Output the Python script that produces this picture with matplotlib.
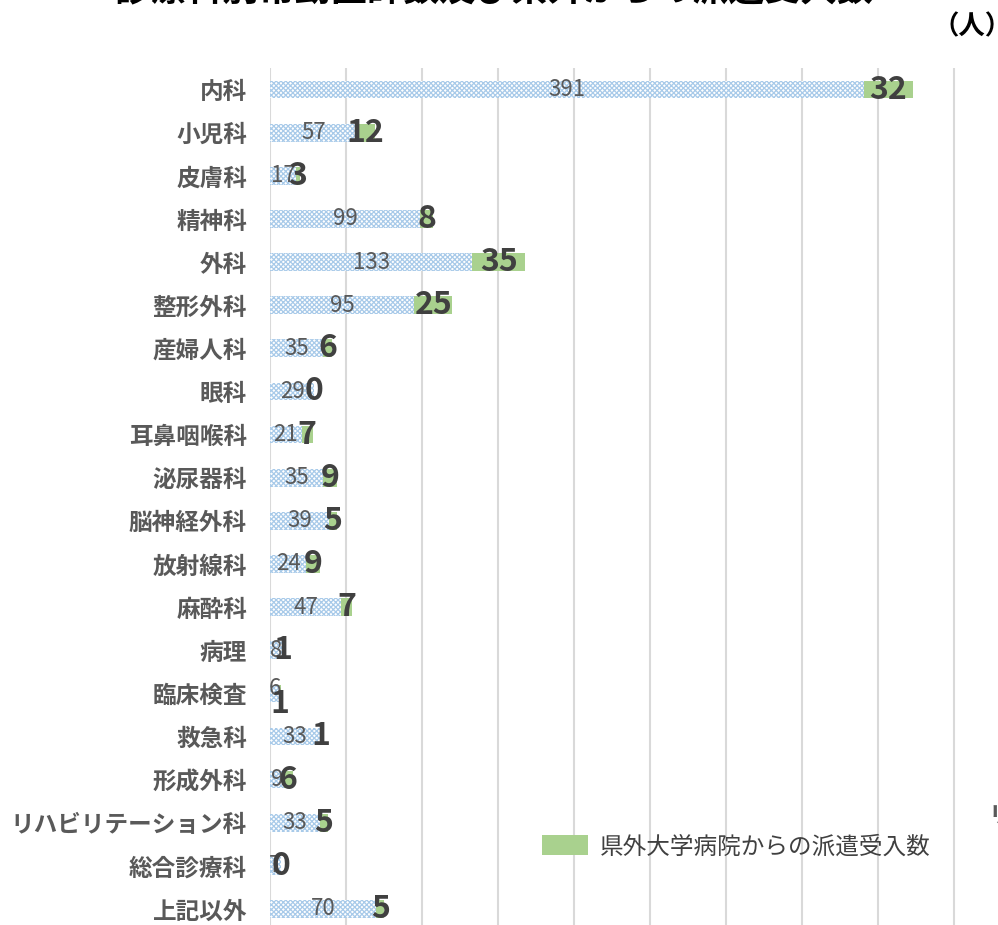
import matplotlib
matplotlib.use("Agg")
import matplotlib.pyplot as plt
import numpy as np

plt.rcParams['font.family'] = ['Noto Sans CJK JP', 'DejaVu Sans']
plt.rcParams['hatch.linewidth'] = 0.9

categories = ["内科", "小児科", "皮膚科", "精神科", "外科", "整形外科", "産婦人科", "眼科",
              "耳鼻咽喉科", "泌尿器科", "脳神経外科", "放射線科", "麻酔科", "病理", "臨床検査",
              "救急科", "形成外科", "リハビリテーション科", "総合診療科", "上記以外"]
base_values = [391, 57, 17, 99, 133, 95, 35, 29, 21, 35, 39, 24, 47, 8, 6, 33, 9, 33, 7, 70]
dispatch_values = [32, 12, 3, 8, 35, 25, 6, 0, 7, 9, 5, 9, 7, 1, 1, 1, 6, 5, 0, 5]
legend_label = "県外大学病院からの派遣受入数"
title = "診療科別常勤医師数及び県外からの派遣受入数"
unit = "（人）"

W, H = 998, 925
fig = plt.figure(figsize=(W / 100, H / 100), dpi=100)
ax = fig.add_axes([270 / W, -0.006, 1 - 270 / W, 1 - 68 / H + 0.006])

y = np.arange(len(categories))
base = np.array(base_values)
disp = np.array(dispatch_values)

hatch_color = '#a8cae9'
b1 = ax.barh(y, base, height=0.41, color='white', hatch='xxxxxxx',
             edgecolor=hatch_color, linewidth=0, zorder=2)
b2 = ax.barh(y, disp, left=base, height=0.41, color='#a9d18e',
             linewidth=0, zorder=2, label=legend_label)

# Excel nudged the overlapping labels of the 臨床検査 row apart
base_dy = {categories.index("臨床検査"): -0.12}
disp_dy = {categories.index("臨床検査"): 0.25}

for yi, v in zip(y, base):
    ax.text(v / 2, yi + base_dy.get(yi, 0), str(v), ha='center', va='center',
            fontsize=16, color='#595959', zorder=4)
for yi, bv, dv in zip(y, base, disp):
    ax.text(bv + dv / 2, yi + disp_dy.get(yi, 0), str(dv), ha='center', va='center',
            fontsize=23, fontweight='bold', color='#404040', zorder=5)

ax.set_xlim(0, 479)
ax.set_ylim(len(categories) - 0.5, -0.5)
ax.set_xticks(np.arange(0, 500, 50))
ax.xaxis.grid(True, color='#d9d9d9', linewidth=1.5, zorder=0)
ax.set_axisbelow(True)
ax.tick_params(axis='x', bottom=False, labelbottom=False)
ax.tick_params(axis='y', left=False, pad=13)
ax.set_yticks(y)
ax.set_yticklabels(categories, fontsize=17, fontweight='bold', color='#595959')
for s in ax.spines.values():
    s.set_visible(False)

leg = fig.legend(handles=[b2], labels=[legend_label], loc='center left',
                 bbox_to_anchor=(542 / W, 1 - 847 / H), frameon=False,
                 fontsize=17, handlelength=1.95, handleheight=0.93,
                 borderpad=0, borderaxespad=0, handletextpad=0.5)
for t in leg.get_texts():
    t.set_color('#404040')

fig.text(0.5 - 5 / W, 1 + 10 / H, title, ha='center', va='center', fontsize=26,
         fontweight='bold', color='black')
fig.text(1 + 14 / W, 1 - 27 / H, unit, ha='right', va='center', fontsize=19,
         fontweight='bold', color='black')
fig.text(988 / W, 1 - 815 / H, "リ", ha='left', va='center', fontsize=17,
         fontweight='bold', color='#595959')

fig.savefig("out.png", dpi=100)
